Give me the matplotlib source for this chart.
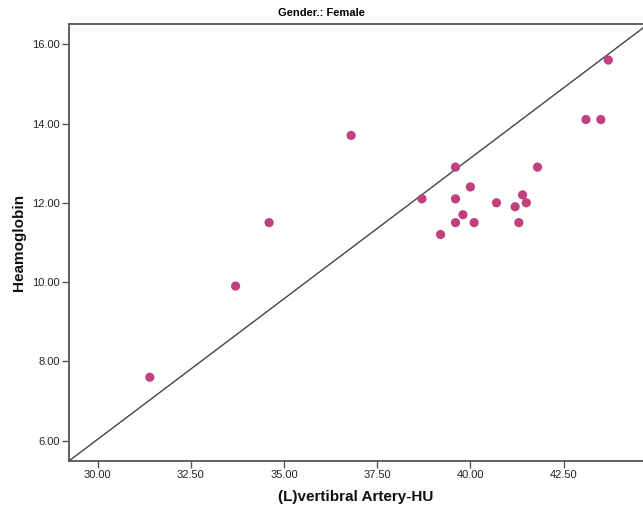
import matplotlib
matplotlib.use("Agg")
import matplotlib.pyplot as plt
from matplotlib.ticker import FormatStrFormatter

# Data
artery_hu = [31.4, 33.7, 34.6, 36.8, 38.7, 39.6, 39.6, 39.6, 39.2, 39.8, 40.0,
             40.1, 40.7, 41.2, 41.3, 41.4, 41.5, 41.8, 43.1, 43.5, 43.7]
haemoglobin = [7.6, 9.9, 11.5, 13.7, 12.1, 12.9, 12.1, 11.5, 11.2, 11.7, 12.4,
               11.5, 12.0, 11.9, 11.5, 12.2, 12.0, 12.9, 14.1, 14.1, 15.6]
ref_line_x = [29.24, 44.63]
ref_line_y = [5.495, 16.41]
x_ticks = [30.0, 32.5, 35.0, 37.5, 40.0, 42.5]
y_ticks = [6.0, 8.0, 10.0, 12.0, 14.0, 16.0]

plt.rcParams['font.family'] = ['Liberation Sans', 'DejaVu Sans']

W, H = 643, 514
fig = plt.figure(figsize=(W / 100, H / 100), dpi=100)
ax_left, ax_bottom_px, ax_top_px = 69.3, 460.7, 24.0
ax = fig.add_axes([ax_left / W, 1 - ax_bottom_px / H, 1 - ax_left / W, (ax_bottom_px - ax_top_px) / H])

ax.plot(ref_line_x, ref_line_y, color='#444444', lw=1.0, zorder=2)
ax.scatter(artery_hu, haemoglobin, s=44, color='#c1417f', edgecolors='none', zorder=3)

ax.set_xlim(29.24, 44.63)
ax.set_ylim(5.495, 16.51)
ax.set_xticks(x_ticks)
ax.set_yticks(y_ticks)
ax.xaxis.set_major_formatter(FormatStrFormatter('%.2f'))
ax.yaxis.set_major_formatter(FormatStrFormatter('%.2f'))
ax.tick_params(direction='out', length=5, width=1, colors='#555555', labelcolor='#222222',
               labelsize=8, pad=2)

for s in ['left', 'bottom', 'top']:
    ax.spines[s].set_color('#555555')
    ax.spines[s].set_linewidth(1.3)
ax.spines['right'].set_visible(False)

ax_w = W - ax_left
ax_h = ax_bottom_px - ax_top_px
ax.set_xlabel('(L)vertibral Artery-HU', fontsize=11, fontweight='bold', color='#111111', va='center')
ax.xaxis.set_label_coords((356 - ax_left) / ax_w, (ax_bottom_px - 497) / ax_h)
ax.set_ylabel('Heamoglobin', fontsize=11, fontweight='bold', color='#111111', va='center')
ax.yaxis.set_label_coords((19 - ax_left) / ax_w, (ax_bottom_px - 242) / ax_h)

fig.text(0.5, 1 - 13 / H, 'Gender.: Female', ha='center', va='center', fontsize=8,
         fontweight='bold', family=['Liberation Sans Narrow', 'Liberation Sans', 'DejaVu Sans'])

fig.savefig('out.png', dpi=100)
